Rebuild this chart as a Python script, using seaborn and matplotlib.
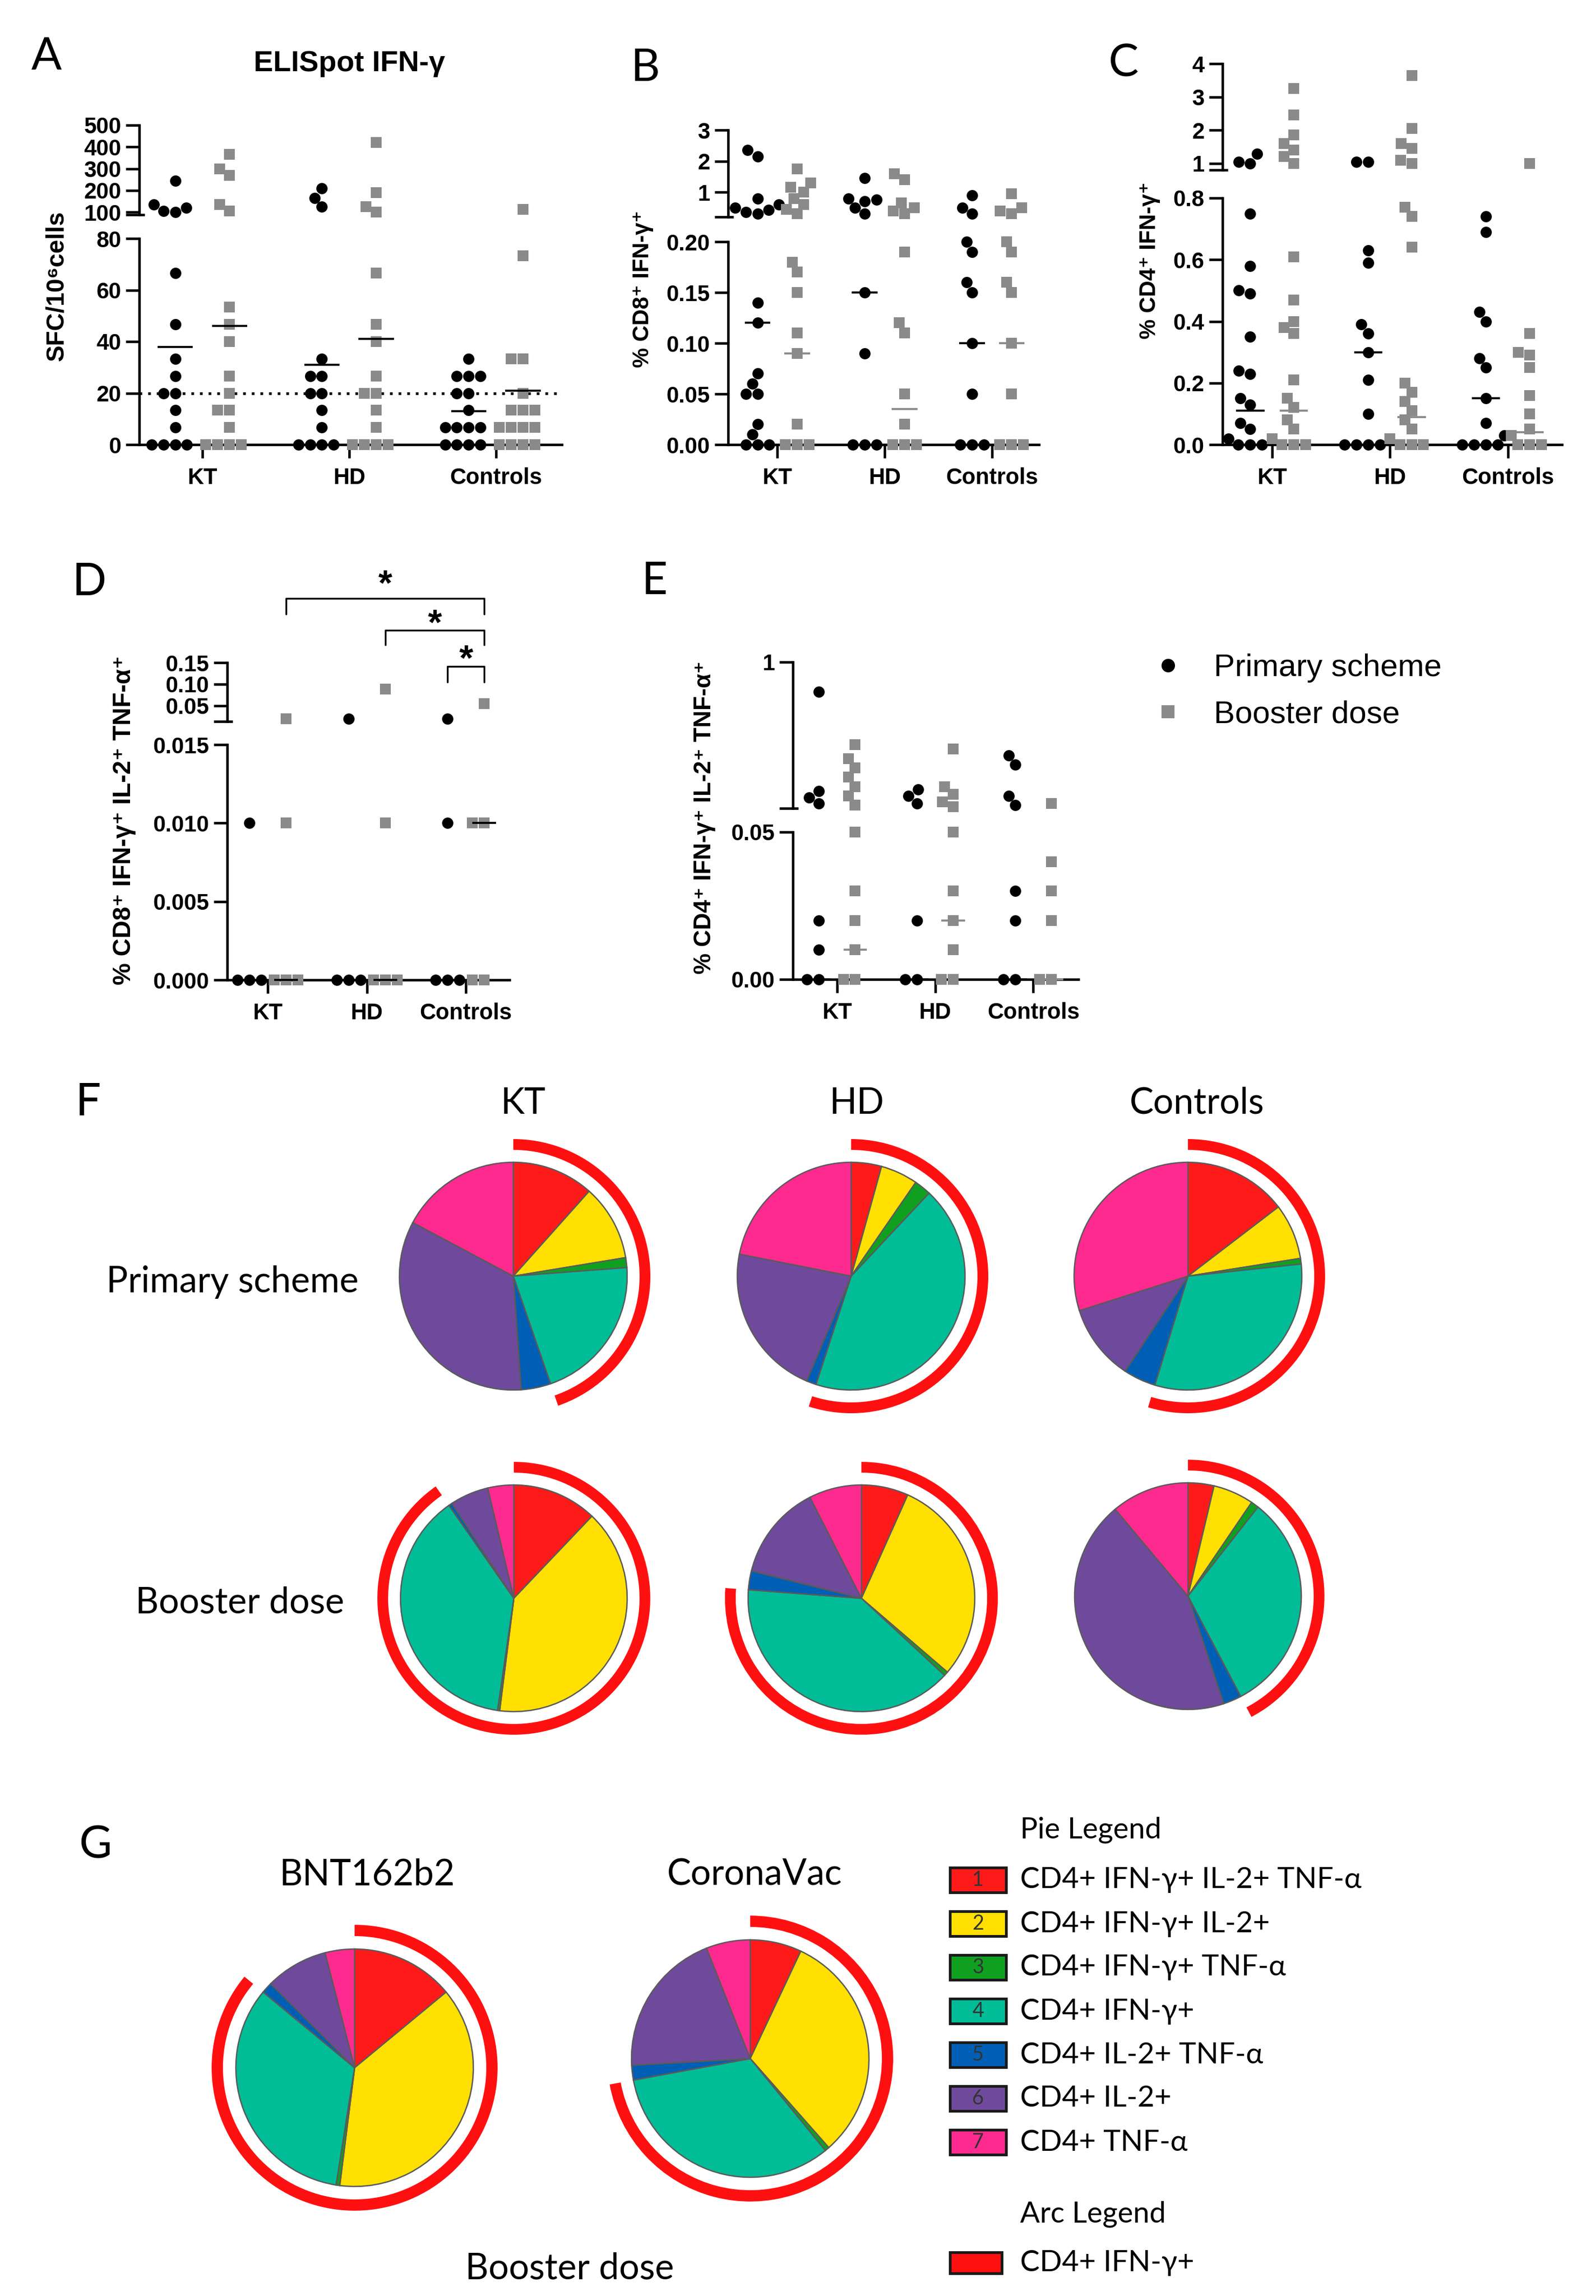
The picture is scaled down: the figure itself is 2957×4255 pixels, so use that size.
import warnings
import matplotlib
matplotlib.use("Agg")
import matplotlib.pyplot as plt
import seaborn as sns
import pandas as pd
from matplotlib.patches import Wedge, Rectangle
from matplotlib.lines import Line2D
from matplotlib import font_manager

warnings.filterwarnings("ignore")

# ---------------- data ----------------
groups = ["KT", "HD", "Controls"]

# A: ELISpot IFN-g (SFC/10^6 cells)
A_primary = {
    "KT": [245, 135, 120, 105, 100, 66.7, 46.7, 33.3, 26.7, 20, 20, 13.3, 6.7, 0, 0, 0, 0],
    "HD": [210, 165, 125, 33.3, 26.7, 26.7, 20, 20, 13.3, 6.7, 0, 0, 0, 0],
    "Controls": [33.3, 26.7, 26.7, 26.7, 20, 20, 13.3, 6.7, 6.7, 6.7, 6.7, 0, 0, 0, 0],
}
A_booster = {
    "KT": [365, 300, 270, 135, 105, 53.3, 46.7, 40, 26.7, 20, 13.3, 13.3, 6.7, 0, 0, 0, 0],
    "HD": [420, 190, 125, 100, 66.7, 46.7, 40, 26.7, 20, 20, 13.3, 6.7, 0, 0, 0, 0],
    "Controls": [112, 73.3, 33.3, 33.3, 20, 13.3, 13.3, 13.3, 6.7, 6.7, 6.7, 6.7, 0, 0, 0, 0],
}
A_primary_line = [38, 31, 13]
A_booster_line = [46, 41, 21]
A_cutoff = 20

# B: % CD8+ IFN-g+
B_primary = {
    "KT": [2.35, 2.15, 0.8, 0.6, 0.5, 0.42, 0.35, 0.3,
           0.14, 0.12, 0.07, 0.06, 0.05, 0.05, 0.02, 0.01, 0, 0, 0],
    "HD": [1.45, 0.8, 0.75, 0.7, 0.5, 0.3, 0.15, 0.09, 0, 0, 0],
    "Controls": [0.9, 0.5, 0.3, 0.2, 0.19, 0.16, 0.15, 0.1, 0.05, 0, 0, 0],
}
B_booster = {
    "KT": [1.75, 1.3, 1.15, 1.0, 0.8, 0.6, 0.45, 0.3,
           0.18, 0.17, 0.15, 0.11, 0.09, 0.02, 0, 0, 0],
    "HD": [1.6, 1.4, 0.65, 0.5, 0.4, 0.3, 0.19, 0.12, 0.11, 0.05, 0.02, 0, 0, 0],
    "Controls": [0.95, 0.5, 0.4, 0.3, 0.2, 0.19, 0.16, 0.15, 0.1, 0.05, 0, 0, 0],
}
B_primary_line = [0.12, 0.15, 0.10]
B_booster_line = [0.09, 0.035, 0.10]

# C: % CD4+ IFN-g+
C_primary = {
    "KT": [1.28, 1.05, 1.0, 0.75, 0.58, 0.5, 0.49, 0.35, 0.24, 0.23,
           0.15, 0.13, 0.07, 0.05, 0.02, 0, 0, 0],
    "HD": [1.05, 1.05, 0.63, 0.59, 0.39, 0.36, 0.3, 0.21, 0.1, 0, 0, 0, 0],
    "Controls": [0.74, 0.69, 0.43, 0.4, 0.28, 0.25, 0.15, 0.07, 0.03, 0, 0, 0, 0],
}
C_booster = {
    "KT": [3.25, 2.45, 1.85, 1.6, 1.4, 1.2, 1.0, 0.61, 0.47, 0.4, 0.38, 0.36,
           0.21, 0.15, 0.12, 0.08, 0.05, 0.02, 0, 0, 0],
    "HD": [3.65, 2.05, 1.6, 1.45, 1.1, 1.0, 0.77, 0.74, 0.64,
           0.2, 0.17, 0.14, 0.11, 0.08, 0.05, 0.02, 0, 0, 0],
    "Controls": [1.0, 0.36, 0.3, 0.29, 0.25, 0.16, 0.1, 0.05, 0.03, 0, 0, 0],
}
C_primary_line = [0.11, 0.30, 0.15]
C_booster_line = [0.11, 0.09, 0.04]

# D: % CD8+ IFN-g+ IL-2+ TNF-a+
D_primary = {"KT": [0.01, 0, 0, 0], "HD": [0.019, 0, 0, 0], "Controls": [0.019, 0.01, 0, 0, 0]}
D_booster = {"KT": [0.019, 0.01, 0, 0, 0], "HD": [0.089, 0.01, 0, 0, 0],
             "Controls": [0.054, 0.01, 0.01, 0, 0]}
D_primary_line = [0, 0, 0]
D_booster_line = [0, 0, 0.01]

# E: % CD4+ IFN-g+ IL-2+ TNF-a+
E_primary = {"KT": [0.81, 0.17, 0.13, 0.09, 0.02, 0.01, 0, 0],
             "HD": [0.18, 0.14, 0.09, 0.02, 0, 0],
             "Controls": [0.4, 0.34, 0.14, 0.08, 0.03, 0.02, 0, 0]}
E_booster = {"KT": [0.47, 0.38, 0.32, 0.26, 0.2, 0.14, 0.08, 0.05, 0.03, 0.02, 0.01, 0, 0],
             "HD": [0.44, 0.2, 0.15, 0.1, 0.07, 0.05, 0.03, 0.02, 0.01, 0, 0],
             "Controls": [0.09, 0.04, 0.03, 0.02, 0, 0]}
E_primary_line = [0, 0, 0]
E_booster_line = [0.01, 0.02, 0]

# F / G: share of CD4+ functional subsets (clockwise from 12 o'clock)
subsets = ["CD4+ IFN-γ+ IL-2+ TNF-α", "CD4+ IFN-γ+ IL-2+", "CD4+ IFN-γ+ TNF-α",
           "CD4+ IFN-γ+", "CD4+ IL-2+ TNF-α", "CD4+ IL-2+", "CD4+ TNF-α"]
pie_KT_primary = [0.116, 0.108, 0.014, 0.209, 0.042, 0.339, 0.172]
pie_HD_primary = [0.043, 0.053, 0.024, 0.430, 0.014, 0.217, 0.219]
pie_Controls_primary = [0.146, 0.079, 0.008, 0.314, 0.046, 0.108, 0.299]
pie_KT_booster = [0.121, 0.399, 0.003, 0.380, 0.005, 0.055, 0.037]
pie_HD_booster = [0.067, 0.296, 0.006, 0.393, 0.027, 0.136, 0.075]
pie_Controls_booster = [0.037, 0.058, 0.011, 0.317, 0.026, 0.440, 0.111]
pie_BNT162b2 = [0.140, 0.380, 0.005, 0.335, 0.015, 0.085, 0.040]
pie_CoronaVac = [0.070, 0.315, 0.006, 0.330, 0.020, 0.199, 0.060]
pie_colors = ["#FF1A1A", "#FFE000", "#10A020", "#00BD98", "#005FB5", "#6F4A9C", "#FF2A8F"]
ARC_RED = "#FF1010"

# ---------------- style ----------------
sns.set_theme(style="ticks", rc={"axes.edgecolor": "black", "xtick.color": "black",
                                 "ytick.color": "black", "text.color": "black"})
installed = {f.name for f in font_manager.fontManager.ttflist}
SANS = [f for f in ["Liberation Sans"] if f in installed] + ["DejaVu Sans"]
HUMAN = [f for f in ["Lato", "Open Sans"] if f in installed][:1] + ["DejaVu Sans"]
plt.rcParams["font.family"] = SANS

W, H, DPI = 2957, 4255, 300
PAD = 14          # px of room above/below each axis segment
OFF = 0.185       # column offset from the group tick
HW = 0.12         # half width of the summary line
MS = 5.0          # marker size, pt
GRAY = "#8a8a8a"
LW_AX = 1.1
TL = 6
TL_PX = 25
FS_TICK = 10

fig = plt.figure(figsize=(W / DPI, H / DPI), dpi=DPI, facecolor="white")


def px_axes(x0, x1, p_bottom, p_top):
    return fig.add_axes([x0 / W, 1 - p_bottom / H, (x1 - x0) / W, (p_bottom - p_top) / H])


def seg_axes(x0, x1, v0, v1, p0, p1):
    per_px = (v1 - v0) / (p0 - p1)
    ax = px_axes(x0, x1, p0 + PAD, p1 - PAD)
    ax.set_ylim(v0 - PAD * per_px, v1 + PAD * per_px)
    ax.set_facecolor("none")
    return ax


def long_table(prim, boost):
    rows = []
    for gi, g in enumerate(groups):
        rows += [(g, "Primary scheme", gi - OFF, v) for v in prim[g]]
        rows += [(g, "Booster dose", gi + OFF, v) for v in boost[g]]
    return pd.DataFrame(rows, columns=["group", "scheme", "pos", "value"])


def scatter_panel(prim, boost, line_p, line_b, xs, xlim, lo, up,
                  lo_ticks, lo_labels, up_ticks, up_labels, boost_line_color):
    x0, x1 = xs
    ax_lo = seg_axes(x0, x1, *lo)
    ax_up = seg_axes(x0, x1, *up)
    df = long_table(prim, boost)
    split = lo[1]
    for ax, part, in_seg in ((ax_lo, df[df.value <= split], lambda v: v <= split),
                             (ax_up, df[df.value > split], lambda v: v > split)):
        for scheme, marker, color in (("Primary scheme", "o", "black"), ("Booster dose", "s", GRAY)):
            sub = part[part.scheme == scheme]
            if len(sub):
                sns.swarmplot(data=sub, x="pos", y="value", native_scale=True, orient="x",
                              marker=marker, color=color, size=MS, linewidth=0,
                              ax=ax, legend=False)
        for gi in range(3):
            for val, off, col in ((line_p[gi], -OFF, "black"), (line_b[gi], OFF, boost_line_color)):
                if in_seg(val):
                    ax.hlines(val, gi + off - HW, gi + off + HW, color=col, lw=0.9, zorder=5)
        ax.set_xlim(*xlim)
        ax.set_xlabel("")
        ax.set_ylabel("")
        ax.spines["top"].set_visible(False)
        ax.spines["right"].set_visible(False)
        for s in ax.spines.values():
            s.set_linewidth(LW_AX)
        ax.tick_params(axis="y", direction="out", length=TL, width=LW_AX, pad=2,
                       labelsize=FS_TICK, color="black")
    ax_lo.spines["bottom"].set_position(("data", 0))
    ax_lo.spines["left"].set_bounds(lo[0], lo[1])
    ax_up.spines["bottom"].set_visible(False)
    ax_up.spines["left"].set_bounds(up[0], up[1])
    ax_lo.set_yticks(lo_ticks, lo_labels, fontweight="bold")
    ax_up.set_yticks(up_ticks, up_labels, fontweight="bold")
    ax_lo.set_xticks([0, 1, 2], groups, fontweight="bold")
    ax_lo.tick_params(axis="x", direction="out", length=TL, width=LW_AX, pad=4,
                      labelsize=FS_TICK, color="black")
    ax_up.tick_params(axis="x", bottom=False, labelbottom=False)
    wpx = x1 - x0
    ax_up.plot([-TL_PX / wpx, 10 / wpx], [up[0], up[0]], transform=ax_up.get_yaxis_transform(),
               color="black", lw=LW_AX, clip_on=False, solid_capstyle="butt")
    return ax_lo, ax_up


def ftext(x, y, s, **kw):
    kw.setdefault("ha", "center")
    kw.setdefault("va", "center")
    return fig.text(x / W, 1 - y / H, s, **kw)


# ---------------- A ----------------
a_lo, a_up = scatter_panel(A_primary, A_booster, A_primary_line, A_booster_line,
                           (258, 1041), (-0.43, 2.45), (0, 80, 824, 442), (88, 500, 398, 232),
                           [0, 20, 40, 60, 80], ["0", "20", "40", "60", "80"],
                           [100, 200, 300, 400, 500], ["100", "200", "300", "400", "500"], "black")
a_lo.axhline(A_cutoff, ls=(0, (1, 2.2)), color="black", lw=1.2, zorder=1)
ftext(647, 118, "ELISpot IFN-γ", fontsize=13, fontweight="bold")
ftext(105, 530, "SFC/10⁶cells", fontsize=11, fontweight="bold", rotation=90)

# ---------------- B ----------------
scatter_panel(B_primary, B_booster, B_primary_line, B_booster_line,
              (1349, 1925), (-0.46, 2.44), (0, 0.2, 824, 448), (0.2, 3, 402, 241),
              [0, 0.05, 0.10, 0.15, 0.20], ["0.00", "0.05", "0.10", "0.15", "0.20"],
              [1, 2, 3], ["1", "2", "3"], GRAY)
ftext(1191, 535, "% CD8⁺ IFN-γ⁺", fontsize=10, fontweight="bold", rotation=90)

# ---------------- C ----------------
scatter_panel(C_primary, C_booster, C_primary_line, C_booster_line,
              (2265, 2894), (-0.42, 2.46), (0, 0.8, 824, 367), (0.8, 4, 315, 118),
              [0, 0.2, 0.4, 0.6, 0.8], ["0.0", "0.2", "0.4", "0.6", "0.8"],
              [1, 2, 3, 4], ["1", "2", "3", "4"], GRAY)
ftext(2130, 482, "% CD4⁺ IFN-γ⁺", fontsize=10, fontweight="bold", rotation=90)

# ---------------- D ----------------
d_lo, d_up = scatter_panel(D_primary, D_booster, D_primary_line, D_booster_line,
                           (421, 944), (-0.41, 2.44), (0, 0.015, 1816, 1380), (0.013, 0.15, 1337, 1228),
                           [0, 0.005, 0.010, 0.015], ["0.000", "0.005", "0.010", "0.015"],
                           [0.05, 0.10, 0.15], ["0.05", "0.10", "0.15"], "black")
ftext(230, 1520, "% CD8⁺ IFN-γ⁺ IL-2⁺ TNF-α⁺", fontsize=11, fontweight="bold", rotation=90)
# significance brackets (booster columns compared)
for xa, xb, top, foot, star in ((0 + OFF, 2 + OFF, 0.299, 0.263, 0.330),
                                (1 + OFF, 2 + OFF, 0.225, 0.191, 0.238),
                                (2 - OFF, 2 + OFF, 0.141, 0.105, 0.155)):
    d_up.plot([xa, xa, xb, xb], [foot, top, top, foot], color="black", lw=0.8, clip_on=False)
    d_up.text((xa + xb) / 2, star, "*", ha="center", va="center", fontsize=16,
              fontweight="bold", clip_on=False)

# ---------------- E ----------------
scatter_panel(E_primary, E_booster, E_primary_line, E_booster_line,
              (1469, 1998), (-0.45, 2.46), (0, 0.05, 1815, 1542), (0.06, 1.0, 1498, 1227),
              [0, 0.05], ["0.00", "0.05"], [1.0], ["1"], GRAY)
ftext(1306, 1515, "% CD4⁺ IFN-γ⁺ IL-2⁺ TNF-α⁺", fontsize=10.5, fontweight="bold", rotation=90)

handles = [Line2D([], [], marker="o", color="black", ls="none", markersize=MS),
           Line2D([], [], marker="s", color=GRAY, ls="none", markersize=MS)]
fig.legend(handles, ["Primary scheme", "Booster dose"], loc="center left",
           bbox_to_anchor=(2135 / W, 1 - 1281 / H), frameon=False, fontsize=14,
           handlelength=1.0, handletextpad=0.95, labelspacing=0.55,
           borderpad=0, borderaxespad=0)

# ---------------- panel letters ----------------
for letter, x, y in (("A", 86, 106), ("B", 1195, 127), ("C", 2082, 118), ("D", 165, 1080),
                     ("E", 1212, 1078), ("F", 163, 2044), ("G", 177, 3420)):
    ftext(x, y, letter, fontsize=20, family=HUMAN)


# ---------------- pies ----------------
def pie_chart(cx, cy, r, fracs):
    side = 2.6 * r
    ax = fig.add_axes([(cx - side / 2) / W, 1 - (cy + side / 2) / H, side / W, side / H])
    ax.pie(fracs, colors=pie_colors, startangle=90, counterclock=False,
           wedgeprops=dict(edgecolor="#5a5a5a", linewidth=0.6))
    share = sum(fracs[:4]) / sum(fracs)   # IFN-g+ subsets carry the arc
    ax.add_patch(Wedge((0, 0), 1.204, 90 - 360 * share, 90, width=0.095,
                       facecolor=ARC_RED, edgecolor="none"))
    ax.set_xlim(-1.3, 1.3)
    ax.set_ylim(-1.3, 1.3)
    ax.set_aspect("equal")
    ax.axis("off")
    return ax


pie_chart(951, 2365, 211, pie_KT_primary)
pie_chart(1577, 2365, 211, pie_HD_primary)
pie_chart(2201, 2365, 211, pie_Controls_primary)
pie_chart(952, 2962, 210, pie_KT_booster)
pie_chart(1596, 2962, 210, pie_HD_booster)
pie_chart(2201, 2958, 210, pie_Controls_booster)
pie_chart(657, 3832, 220, pie_BNT162b2)
pie_chart(1390, 3815, 220, pie_CoronaVac)

for s, x, y in (("KT", 970, 2045), ("HD", 1588, 2045), ("Controls", 2218, 2045),
                ("Primary scheme", 431, 2376), ("Booster dose", 444, 2970),
                ("BNT162b2", 681, 3474), ("CoronaVac", 1398, 3474), ("Booster dose", 1055, 4205)):
    ftext(x, y, s, fontsize=16, family=HUMAN)

# ---------------- pie / arc legend ----------------
ftext(1890, 3391, "Pie Legend", fontsize=13, family=HUMAN, ha="left")
for i, (lab, col) in enumerate(zip(subsets, pie_colors)):
    yc = 3484 + i * 81
    fig.add_artist(Rectangle((1760 / W, 1 - (yc + 23) / H), 104 / W, 46 / H,
                             transform=fig.transFigure, facecolor=col,
                             edgecolor="#1a1a1a", lw=1.2))
    ftext(1812, yc, str(i + 1), fontsize=9, color="#333333", family=HUMAN)
    ftext(1890, yc, lab, fontsize=13, family=HUMAN, ha="left")
ftext(1890, 4103, "Arc Legend", fontsize=13, family=HUMAN, ha="left")
fig.add_artist(Rectangle((1760 / W, 1 - 4213 / H), 96 / W, 39 / H, transform=fig.transFigure,
                         facecolor=ARC_RED, edgecolor="#1a1a1a", lw=1.2))
ftext(1890, 4194, "CD4+ IFN-γ+", fontsize=13, family=HUMAN, ha="left")

fig.savefig("out.png", dpi=DPI, facecolor="white")
